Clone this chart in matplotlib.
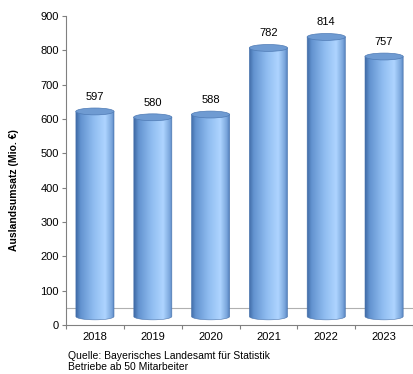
import numpy as np
import matplotlib
matplotlib.use("Agg")
import matplotlib.pyplot as plt
from matplotlib.patches import Ellipse, PathPatch, Polygon
from matplotlib.path import Path
from matplotlib.colors import LinearSegmentedColormap

# données
annees = ["2018", "2019", "2020", "2021", "2022", "2023"]
umsatz = [597, 580, 588, 782, 814, 757]

plt.rcParams["font.family"] = ["Liberation Sans", "DejaVu Sans"]

fig = plt.figure(figsize=(4.13, 3.74), dpi=100)
ax = fig.add_axes([66 / 413, 49 / 374, 1 - 66 / 413, 309 / 374])

ax.set_xlim(0, len(annees))
ax.set_ylim(0, 900)

# effet 3D : les cylindres reposent au milieu du "sol"
sol = 25
larg = 0.66
haut_ell = 20

cmap = LinearSegmentedColormap.from_list("cyl", [
    (0.0, "#3f6aa6"), (0.12, "#6393d0"), (0.45, "#8fbcf0"),
    (0.75, "#aed4ff"), (0.92, "#7aa6dc"), (1.0, "#4d7ab8")])
grad = np.linspace(0, 1, 256).reshape(1, -1)

# ligne du sol
ax.axhline(50, color="#b0b0b0", lw=0.8, zorder=1)

for i, v in enumerate(umsatz):
    xc = i + 0.5
    x0, x1 = xc - larg / 2, xc + larg / 2
    haut = sol + v
    t = np.linspace(np.pi, 2 * np.pi, 40)
    pts = [(x0, haut), (x0, sol)]
    pts += list(zip(xc + larg / 2 * np.cos(t), sol + haut_ell / 2 * np.sin(t)))
    pts += [(x1, haut)]
    corps = Polygon(pts, closed=True, fc="none", ec="#4a74ad", lw=0.4, zorder=3)
    ax.add_patch(corps)
    im = ax.imshow(grad, cmap=cmap, aspect="auto", extent=(x0, x1, sol - haut_ell / 2, haut),
                   zorder=2, interpolation="bilinear")
    im.set_clip_path(corps)
    ax.add_patch(Ellipse((xc, haut), larg, haut_ell, fc="#6f9bd2", ec="#4f7bb5", lw=0.5, zorder=4))
    ax.text(xc, haut + 28, str(v), ha="center", va="bottom", fontsize=8, zorder=5)

# axes
for s in ["top", "right"]:
    ax.spines[s].set_visible(False)
ax.spines["left"].set_color("#808080")
ax.spines["bottom"].set_color("#808080")
ax.set_yticks(range(0, 901, 100))
ax.tick_params(axis="y", labelsize=8, length=3, color="#808080", pad=2)
ax.set_xticks(range(0, len(annees) + 1))
ax.set_xticklabels([])
ax.set_xticks(np.arange(len(annees)) + 0.5, minor=True)
ax.set_xticklabels(annees, minor=True)
ax.tick_params(axis="x", which="major", length=3, color="#808080")
ax.tick_params(axis="x", which="minor", length=0, labelsize=8, pad=5)

fig.text(14 / 413, 1 - 190 / 374, "Auslandsumsatz (Mio. €)", rotation=90, ha="center", va="center",
         fontsize=7.5, fontweight="bold")
fig.text(68 / 413, 1 - 356 / 374, "Quelle: Bayerisches Landesamt für Statistik", fontsize=7.5, va="center")
fig.text(68 / 413, 1 - 367 / 374, "Betriebe ab 50 Mitarbeiter", fontsize=7.5, va="center")

fig.savefig("out.png", dpi=100)
